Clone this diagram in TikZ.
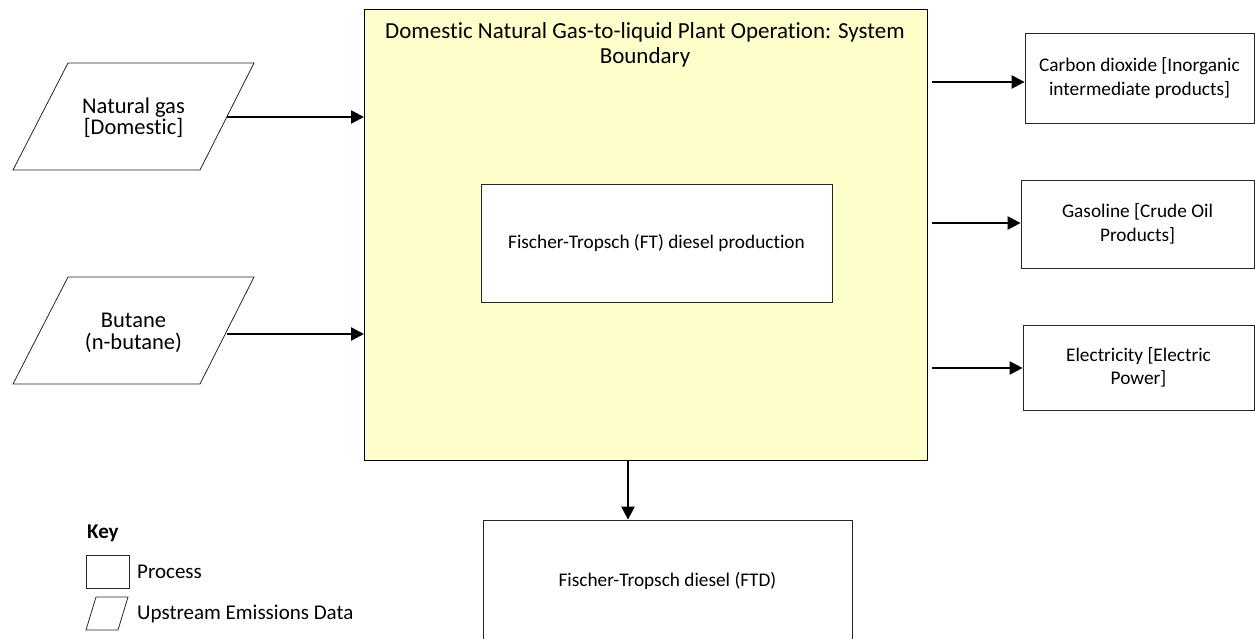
\documentclass[tikz,border=0pt]{standalone}
\usepackage{fontspec}
\setmainfont{Carlito}[Ligatures=NoCommon]
\usetikzlibrary{arrows.meta}
\definecolor{sysyellow}{HTML}{FFFFCC}
\begin{document}
\begin{tikzpicture}[x=1pt,y=-1pt,
  txt/.style={align=center, inner sep=0pt},
  big/.style={font=\fontsize{22.5}{21.5}\selectfont},
  mid/.style={font=\fontsize{19.3}{23.5}\selectfont},
  box/.style={draw=black!85, line width=0.8pt, fill=white, align=center, inner sep=0pt},
  para/.style={draw=black!85, line width=0.8pt, fill=white},
  flow/.style={line width=2.4pt, -{Triangle[length=13pt,width=13pt]}}]
\useasboundingbox (0,0) rectangle (1255,638);

% system boundary
\node[draw=black, line width=1pt, fill=sysyellow, minimum width=563pt, minimum height=451pt, anchor=north west, inner sep=0pt] (sys) at (364,9) {};
\node[txt, font=\fontsize{23}{24.5}\selectfont] (title) at (645,45) {Domestic Natural Gas-to-liquid Plant Operation: System\\Boundary};
\node[box, mid, minimum width=351pt, minimum height=118pt] (ft) at (656.5,243) {Fischer-Tropsch (FT) diesel production};

% inputs
\draw[para] (68,63) -- (254,63) -- (200,170) -- (13,170) -- cycle;
\node[txt, big] (ng) at (133.5,117.5) {Natural gas\\{[}Domestic{]}};
\draw[para] (68,277) -- (254,277) -- (200,384) -- (13,384) -- cycle;
\node[txt, big] (bu) at (133.5,333) {Butane\\(n-butane)};
\coordinate (ngout) at (227,117);
\coordinate (buout) at (227,334);
\draw[flow] (ngout) -- (ngout -| sys.west);
\draw[flow] (buout) -- (buout -| sys.west);

% outputs
\node[box, mid, minimum width=229pt, minimum height=90pt] (co2) at (1139.5,78) {Carbon dioxide [Inorganic\\intermediate products]};
\node[box, mid, minimum width=233pt, minimum height=88pt] (gas) at (1137.5,224) {Gasoline [Crude Oil\\Products]};
\node[box, mid, minimum width=231pt, minimum height=85pt] (el) at (1138.5,367.5) {Electricity [Electric\\Power]};
\coordinate (o1) at (932,82);
\coordinate (o2) at (932,223);
\coordinate (o3) at (932,368);
\draw[flow] (o1) -- (o1 -| co2.west);
\draw[flow] (o2) -- (o2 -| gas.west);
\draw[flow] (o3) -- (o3 -| el.west);

\node[box, mid, minimum width=369pt, minimum height=122pt] (ftd) at (667.5,581) {Fischer-Tropsch diesel (FTD)};
\coordinate (dstart) at (628,460);
\draw[flow] (dstart) -- (dstart |- ftd.north);

% key
\node[txt, anchor=west, font=\fontsize{21}{24}\selectfont\bfseries] (key) at (87,533) {Key};
\node[draw=black!85, line width=0.8pt, minimum width=43pt, minimum height=33pt, inner sep=0pt] (kproc) at (107.5,571.5) {};
\node[txt, anchor=west, font=\fontsize{21}{24}\selectfont] (kproclab) at (137,571.5) {Process};
\draw[para] (96,597) -- (128,597) -- (118,630) -- (86,630) -- cycle;
\node[txt, anchor=west, font=\fontsize{21}{24}\selectfont] (kparalab) at (137,614) {Upstream Emissions Data};
\end{tikzpicture}
\end{document}
